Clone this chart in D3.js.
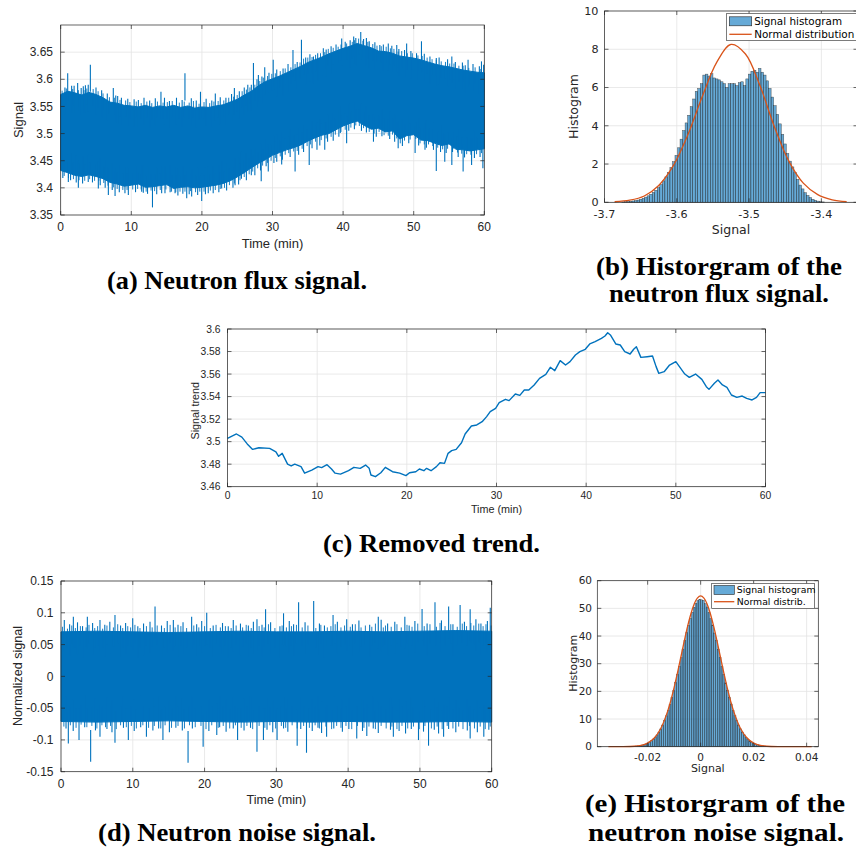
<!DOCTYPE html>
<html>
<head>
<meta charset="utf-8">
<script src="https://cdn.jsdelivr.net/npm/d3@7"></script>
<style>
body { margin: 0; background: #fff; }
svg { display: block; }
</style>
</head>
<body>
<svg id="fig" width="856" height="847"></svg>
<script>
// ---- (a) neutron flux signal: dense band envelope (1 min steps) + spikes
var aEnvT = d3.range(0, 61);
var aUpper = [3.572,3.578,3.575,3.571,3.576,3.572,3.566,3.558,3.556,3.552,3.551,3.549,3.552,3.548,3.551,3.549,3.552,3.548,3.551,3.547,
	3.549,3.548,3.551,3.553,3.558,3.563,3.571,3.578,3.588,3.596,3.601,3.606,3.612,3.618,3.624,3.631,3.636,3.641,3.647,3.652,
	3.657,3.661,3.666,3.662,3.658,3.652,3.651,3.648,3.643,3.641,3.639,3.636,3.632,3.628,3.625,3.623,3.620,3.617,3.615,3.613,3.612];
var aLower = [3.432,3.428,3.423,3.421,3.424,3.421,3.417,3.410,3.407,3.403,3.405,3.407,3.401,3.402,3.404,3.406,3.399,3.401,3.402,3.400,
	3.401,3.403,3.405,3.408,3.413,3.420,3.428,3.437,3.445,3.452,3.460,3.465,3.470,3.474,3.479,3.486,3.492,3.497,3.500,3.507,
	3.514,3.519,3.523,3.515,3.508,3.510,3.503,3.505,3.490,3.496,3.498,3.488,3.487,3.482,3.478,3.481,3.471,3.470,3.468,3.470,3.472];
var aSpikesUp = [[0.99,3.611],[1.55,3.588],[2.4,3.593],[3.2,3.587],[3.9,3.59],[4.2,3.627],[7.45,3.584],[8.07,3.569],[11.0,3.562],
	[14.2,3.577],[17.6,3.611],[19.8,3.577],[21.9,3.574],[24.6,3.584],[26.5,3.59],[27.3,3.63],[28.0,3.608],[28.9,3.622],[30.1,3.636],
	[32.9,3.654],[34.1,3.673],[35.8,3.642],[37.2,3.657],[39.8,3.675],[41.5,3.679],[42.5,3.687],[43.3,3.676],[45.2,3.663],[46.4,3.666],
	[47.6,3.663],[49.0,3.666],[51.1,3.670],[53.2,3.639],[55.4,3.642],[57.7,3.636],[59.6,3.633],
	[0.6,3.585],[1.9,3.588],[2.9,3.584],[3.5,3.589],[5.0,3.585],[5.8,3.58],[6.6,3.574],[7.8,3.57],[8.6,3.566],[9.5,3.564],[10.4,3.563],
	[11.8,3.566],[12.6,3.561],[13.4,3.565],[14.7,3.566],[15.4,3.56],[16.4,3.566],[17.2,3.562],[18.5,3.565],[19.2,3.561],[20.6,3.564],
	[21.4,3.561],[22.6,3.567],[23.4,3.566],[24.2,3.573],[25.3,3.578],[26.0,3.585],[27.0,3.59],[27.8,3.6],[28.5,3.605],[29.5,3.612],
	[30.6,3.618],[31.5,3.62],[32.2,3.628],[33.5,3.632],[34.7,3.64],[35.3,3.646],[36.4,3.648],[37.6,3.655],[38.3,3.661],[39.0,3.664],
	[40.3,3.669],[41.0,3.672],[41.8,3.676],[42.9,3.674],[43.7,3.67],[44.5,3.668],[45.7,3.664],[46.9,3.662],[47.9,3.656],[48.7,3.654],
	[49.6,3.652],[50.4,3.648],[51.5,3.647],[52.3,3.642],[53.6,3.64],[54.8,3.637],[55.9,3.632],[56.9,3.631],[57.3,3.626],[58.4,3.628],
	[59.3,3.624],[59.9,3.627]];
var aSpikesDown = [[1.08,3.411],[2.5,3.4],[3.9,3.411],[5.33,3.399],[6.75,3.387],[7.7,3.385],[9.58,3.387],[11.47,3.393],[13.0,3.364],
	[14.77,3.39],[16.2,3.39],[17.85,3.381],[18.55,3.384],[19.97,3.376],[20.9,3.39],[22.8,3.399],[24.7,3.405],[25.6,3.417],[27.0,3.423],
	[28.4,3.412],[29.4,3.43],[30.6,3.448],[31.3,3.443],[33.2,3.43],[35.2,3.442],[36.3,3.47],[37.4,3.47],[39.6,3.501],[40.5,3.482],
	[44.3,3.485],[47.8,3.473],[50.2,3.464],[51.6,3.47],[53.2,3.431],[54.4,3.448],[55.4,3.442],[57.0,3.43],[58.2,3.442],[59.8,3.436],
	[0.3,3.418],[1.4,3.414],[2.2,3.41],[3.1,3.408],[4.5,3.41],[5.6,3.405],[6.3,3.4],[7.3,3.396],[8.3,3.392],[9.1,3.39],[10.6,3.392],
	[11.7,3.391],[12.3,3.389],[13.6,3.388],[14.3,3.39],[15.5,3.392],[16.6,3.386],[17.3,3.389],[18.2,3.388],[19.4,3.387],[20.5,3.388],
	[21.6,3.39],[22.4,3.392],[23.5,3.395],[24.4,3.4],[25.2,3.406],[26.3,3.414],[27.5,3.423],[28.3,3.432],[29.1,3.44],[30.2,3.446],
	[31.4,3.452],[32.5,3.457],[33.7,3.461],[34.4,3.466],[35.6,3.473],[36.7,3.478],[37.8,3.485],[38.6,3.487],[39.4,3.494],[40.8,3.505],
	[41.6,3.508],[42.6,3.505],[43.3,3.502],[44.7,3.494],[45.5,3.495],[46.6,3.49],[47.3,3.485],[48.4,3.477],[49.3,3.482],[50.7,3.478],
	[51.8,3.474],[52.8,3.47],[53.8,3.466],[54.6,3.464],[55.5,3.466],[56.3,3.457],[57.2,3.456],[58.6,3.455],[59.4,3.457]];
// short spikes that make the ragged edge of the band
var aFringeUp = [[0.2,3.579],[0.8,3.583],[1.7,3.582],[2.5,3.58],[3.3,3.58],[3.7,3.583],[4.6,3.582],[5.3,3.578],[6.0,3.574],[6.9,3.567],
	[7.6,3.566],[8.4,3.562],[9.2,3.561],[9.8,3.558],[10.7,3.559],[11.4,3.556],[12.2,3.559],[12.9,3.556],[13.7,3.559],[14.5,3.557],
	[15.1,3.558],[15.8,3.56],[16.8,3.557],[17.5,3.559],[18.2,3.557],[18.8,3.56],[19.6,3.555],[20.3,3.558],[21.1,3.556],[21.7,3.559],
	[22.3,3.56],[23.1,3.561],[23.8,3.566],[24.5,3.568],[25.0,3.571],[25.7,3.578],[26.3,3.581],[26.8,3.585],[27.5,3.59],[28.2,3.597],
	[28.7,3.603],[29.3,3.606],[29.9,3.61],[30.4,3.611],[31.1,3.615],[31.8,3.62],[32.6,3.622],[33.2,3.628],[33.9,3.631],[34.4,3.638],
	[35.0,3.64],[35.6,3.641],[36.1,3.645],[36.8,3.648],[37.4,3.65],[37.9,3.656],[38.6,3.658],[39.3,3.66],[39.7,3.664],[40.5,3.666],
	[41.3,3.669],[41.6,3.672],[42.2,3.675],[42.8,3.671],[43.5,3.669],[44.2,3.665],[44.8,3.662],[45.4,3.661],[46.1,3.66],[46.7,3.657],
	[47.2,3.656],[47.8,3.651],[48.3,3.652],[49.1,3.648],[49.8,3.648],[50.6,3.644],[51.2,3.643],[51.9,3.64],[52.6,3.637],[53.2,3.636],
	[53.9,3.633],[54.5,3.632],[55.1,3.629],[55.7,3.629],[56.4,3.625],[57.0,3.625],[57.8,3.621],[58.7,3.622],[59.5,3.619]];
var aFringeDown = [[0.5,3.422],[1.1,3.418],[1.8,3.416],[2.6,3.414],[3.4,3.413],[4.1,3.416],[4.8,3.413],[5.4,3.413],[6.1,3.409],[6.7,3.404],
	[7.5,3.401],[8.0,3.398],[8.8,3.396],[9.4,3.396],[10.2,3.397],[10.9,3.398],[11.4,3.397],[12.1,3.393],[12.8,3.395],[13.3,3.394],
	[14.1,3.396],[14.9,3.397],[15.7,3.393],[16.3,3.392],[16.9,3.393],[17.6,3.393],[18.4,3.394],[19.1,3.392],[19.7,3.393],[20.3,3.393],
	[21.2,3.395],[21.9,3.396],[22.6,3.398],[23.2,3.4],[23.9,3.405],[24.6,3.408],[25.4,3.414],[26.0,3.42],[26.7,3.425],[27.2,3.43],
	[27.9,3.436],[28.6,3.441],[29.3,3.446],[29.8,3.45],[30.4,3.455],[31.1,3.458],[31.8,3.461],[32.3,3.464],[33.0,3.467],[33.5,3.468],
	[34.2,3.472],[34.9,3.477],[35.4,3.48],[36.1,3.485],[36.9,3.488],[37.6,3.491],[38.3,3.494],[38.9,3.498],[39.7,3.503],[40.3,3.507],
	[41.1,3.511],[41.8,3.515],[42.3,3.514],[42.9,3.51],[43.7,3.503],[44.4,3.5],[45.1,3.503],[45.8,3.497],[46.4,3.496],[47.0,3.498],
	[47.6,3.491],[48.1,3.482],[48.7,3.487],[49.5,3.489],[50.3,3.49],[50.9,3.482],[51.5,3.48],[52.1,3.48],[52.7,3.477],[53.4,3.474],
	[54.1,3.471],[54.8,3.472],[55.6,3.472],[56.2,3.465],[56.8,3.463],[57.5,3.462],[58.1,3.461],[58.9,3.462],[59.6,3.464]];
var aXTicks = [0,10,20,30,40,50,60];
var aYTicks = [3.35,3.4,3.45,3.5,3.55,3.6,3.65];

// ---- (b) histogram of the flux signal (pdf), 80 bins
var bBinStart = -3.676, bBinWidth = 0.0035;
var bHeights = [0.02,0.03,0.04,0.05,0.07,0.09,0.12,0.16,0.21,0.27,0.34,0.42,0.52,0.63,0.77,0.93,1.12,1.33,1.56,1.82,
	2.12,2.45,2.85,3.3,3.75,4.15,4.55,5.0,5.4,5.8,5.95,6.2,6.65,6.7,6.6,6.72,6.5,6.45,6.4,6.3,
	6.2,6.0,6.2,6.2,6.2,6.1,6.25,6.3,6.1,6.45,6.7,6.85,6.9,6.8,7.0,6.8,6.65,6.35,5.95,5.5,
	5.05,4.6,4.1,3.55,3.05,2.55,2.15,1.85,1.55,1.2,0.9,0.7,0.5,0.36,0.25,0.16,0.1,0.06,0.03,0.02];
var bNormX = [-3.686,-3.665,-3.645,-3.625,-3.605,-3.585,-3.565,-3.545,-3.525,-3.505,-3.485,-3.465,-3.445,-3.425,-3.405,-3.385,-3.365];
var bNormY = [0.03,0.11,0.33,0.88,1.9,3.5,5.5,7.3,8.25,7.75,6.1,3.95,2.15,1.0,0.4,0.13,0.03];
var bXTicks = [-3.7,-3.6,-3.5,-3.4];
var bYTicks = [0,2,4,6,8,10];

// ---- (c) removed trend
var cTime = [0,1.0,1.6,2.2,2.8,3.5,4.7,5.4,5.7,6.1,6.7,7.1,7.5,8.2,8.6,9.4,10.1,10.5,11.1,11.6,12.0,12.6,13.5,14.1,14.8,15.4,15.8,
	16.0,16.5,17.1,17.6,18.4,19.2,19.9,20.3,21.0,21.4,21.9,22.2,22.7,23.3,23.7,24.2,24.6,25.0,25.5,26.1,26.5,27.2,27.8,28.4,28.9,
	29.3,29.9,30.3,31.0,31.4,32.1,32.6,33.1,33.6,34.2,34.8,35.5,36.0,36.5,37.1,37.7,38.2,38.8,39.3,39.9,40.4,41.0,41.7,42.1,42.4,
	42.7,43.3,43.8,44.3,44.9,45.3,45.6,46.1,46.8,47.4,47.8,48.1,48.7,49.3,50.0,50.4,51.0,51.5,52.2,52.9,53.4,53.7,54.3,54.7,55.2,
	55.7,56.2,56.8,57.4,57.9,58.5,59.0,59.4,60];
var cTrend = [3.503,3.5068,3.504,3.498,3.4931,3.4946,3.494,3.491,3.487,3.4896,3.480,3.4784,3.480,3.4778,3.472,3.4748,3.4778,3.4769,
	3.4795,3.4757,3.472,3.4712,3.4742,3.4772,3.4763,3.4792,3.4763,3.4704,3.4689,3.4724,3.4772,3.4733,3.472,3.4698,3.4724,3.4733,
	3.4757,3.4742,3.4763,3.4742,3.4778,3.4813,3.4807,3.4896,3.492,3.4931,3.499,3.5068,3.5139,3.5148,3.5177,3.5222,3.5266,3.5296,
	3.5346,3.5376,3.5364,3.5423,3.5411,3.5458,3.5458,3.5503,3.5562,3.5597,3.566,3.563,3.5719,3.568,3.571,3.5769,3.5799,3.582,
	3.5867,3.5888,3.5917,3.5938,3.5967,3.5947,3.5867,3.5858,3.5799,3.5778,3.582,3.5843,3.5748,3.5754,3.576,3.5666,3.5606,3.5621,
	3.568,3.571,3.5666,3.560,3.5571,3.560,3.5553,3.5488,3.5464,3.5518,3.5547,3.5503,3.5482,3.5414,3.5393,3.5405,3.5384,3.537,
	3.5393,3.5435,3.5435];
var cXTicks = [0,10,20,30,40,50,60];
var cYTicks = [3.46,3.48,3.5,3.52,3.54,3.56,3.58,3.6];

// ---- (d) neutron noise signal: band envelope (5 min steps) + spikes
var dEnvT = [0,5,10,15,20,25,30,35,40,45,50,55,60];
var dUpper = [0.070,0.071,0.070,0.069,0.070,0.071,0.070,0.070,0.071,0.070,0.071,0.072,0.071];
var dLower = [-0.071,-0.072,-0.071,-0.070,-0.071,-0.072,-0.071,-0.072,-0.071,-0.072,-0.072,-0.071,-0.072];
var dSpikesUp = [[0.46,0.0887],[1.72,0.0939],[3.67,0.0939],[5.43,0.0887],[7.52,0.0965],[9.99,0.0913],[13.1,0.1097],[15.65,0.0887],
	[18.2,0.0939],[20.3,0.1002],[24.0,0.0887],[27.3,0.0897],[28.5,0.1055],[31.0,0.0992],[33.1,0.1165],[35.2,0.1186],[37.9,0.0965],
	[39.8,0.0897],[44.2,0.0939],[47.9,0.0939],[50.3,0.106],[52.1,0.1165],[54.0,0.1097],[55.6,0.1123],[57.0,0.1055],[59.8,0.108],
	[1.2,0.082],[2.3,0.085],[3.0,0.079],[4.4,0.084],[6.1,0.081],[6.8,0.086],[8.3,0.08],[9.0,0.084],[10.7,0.079],[11.5,0.083],
	[12.4,0.086],[14.0,0.08],[14.8,0.087],[16.3,0.081],[17.0,0.085],[18.9,0.082],[19.6,0.087],[21.2,0.08],[22.5,0.084],[23.3,0.079],
	[25.0,0.083],[26.1,0.08],[26.8,0.086],[28.0,0.081],[29.2,0.085],[30.5,0.079],[31.8,0.087],[32.4,0.082],[34.0,0.085],[36.0,0.083],
	[36.7,0.08],[38.5,0.086],[40.6,0.082],[41.5,0.088],[43.0,0.081],[44.6,0.089],[45.5,0.083],[46.5,0.086],[48.5,0.08],[49.3,0.087],
	[51.0,0.083],[53.0,0.088],[54.6,0.082],[56.2,0.086],[57.8,0.09],[58.5,0.083],[59.4,0.087]];
var dSpikesDown = [[1.02,-0.1055],[2.51,-0.1002],[4.13,-0.1343],[5.43,-0.095],[7.52,-0.1044],[9.38,-0.1002],[11.9,-0.095],
	[14.2,-0.1002],[17.7,-0.1359],[19.8,-0.1107],[21.7,-0.0923],[24.6,-0.1002],[27.3,-0.1186],[28.2,-0.1002],[30.1,-0.1002],
	[32.9,-0.1091],[34.2,-0.1202],[37.0,-0.095],[41.2,-0.0976],[42.6,-0.0939],[46.3,-0.095],[49.8,-0.1002],[51.2,-0.1091],
	[53.3,-0.095],[57.0,-0.0976],[58.9,-0.095],
	[0.7,-0.082],[1.7,-0.086],[3.3,-0.08],[4.8,-0.085],[6.4,-0.083],[7.1,-0.088],[8.7,-0.081],[10.2,-0.086],[11.1,-0.08],[12.8,-0.085],
	[13.6,-0.082],[15.1,-0.088],[16.0,-0.081],[16.9,-0.085],[18.3,-0.082],[20.6,-0.086],[22.1,-0.08],[23.0,-0.087],[24.0,-0.082],
	[25.5,-0.085],[26.4,-0.081],[28.7,-0.084],[29.5,-0.088],[31.0,-0.082],[31.6,-0.087],[33.4,-0.083],[35.0,-0.086],[35.8,-0.081],
	[36.3,-0.089],[38.0,-0.082],[39.2,-0.087],[40.1,-0.083],[42.0,-0.086],[43.5,-0.082],[44.2,-0.089],[45.9,-0.084],[47.1,-0.086],
	[48.0,-0.09],[48.8,-0.083],[50.5,-0.087],[52.0,-0.084],[52.6,-0.09],[54.0,-0.083],[55.0,-0.088],[56.6,-0.085],[58.0,-0.088],[59.6,-0.084]];
var dFringeUp = [[0.2,0.078],[0.9,0.075],[1.5,0.08],[2.0,0.076],[2.7,0.079],[3.5,0.077],[3.9,0.081],[4.7,0.076],[5.1,0.079],[5.8,0.075],
	[6.4,0.08],[7.3,0.077],[7.9,0.082],[8.6,0.076],[9.3,0.079],[9.7,0.077],[10.3,0.081],[11.0,0.076],[11.9,0.079],[12.7,0.077],
	[13.4,0.08],[14.4,0.076],[15.2,0.081],[15.9,0.077],[16.7,0.079],[17.5,0.076],[18.5,0.08],[19.2,0.077],[20.0,0.079],[20.8,0.076],
	[21.6,0.081],[22.2,0.077],[22.9,0.079],[23.7,0.076],[24.4,0.08],[25.3,0.077],[25.8,0.081],[26.5,0.076],[27.6,0.079],[28.3,0.077],
	[28.9,0.082],[29.8,0.076],[30.8,0.08],[31.4,0.077],[32.1,0.079],[32.8,0.081],[33.6,0.077],[34.4,0.08],[35.5,0.076],[36.2,0.081],
	[37.1,0.077],[37.6,0.079],[38.2,0.082],[39.0,0.077],[39.5,0.08],[40.3,0.078],[41.0,0.082],[41.8,0.077],[42.4,0.08],[43.3,0.078],
	[43.8,0.083],[44.9,0.077],[45.2,0.08],[46.0,0.078],[46.8,0.082],[47.4,0.077],[48.2,0.081],[48.9,0.078],[49.7,0.083],[50.6,0.079],
	[51.4,0.082],[52.3,0.078],[52.8,0.084],[53.5,0.079],[54.3,0.082],[55.2,0.078],[55.9,0.083],[56.5,0.079],[57.1,0.084],[57.5,0.08],
	[58.2,0.083],[58.8,0.079],[59.2,0.082],[59.9,0.08]];
var dFringeDown = [[0.4,-0.079],[1.3,-0.077],[2.1,-0.081],[2.8,-0.076],[3.6,-0.08],[4.3,-0.078],[5.0,-0.082],[5.7,-0.077],[6.2,-0.08],
	[6.9,-0.078],[7.7,-0.083],[8.3,-0.077],[9.1,-0.08],[9.8,-0.078],[10.5,-0.082],[11.4,-0.077],[12.2,-0.081],[13.0,-0.078],[13.9,-0.082],
	[14.5,-0.077],[15.4,-0.081],[16.3,-0.078],[17.2,-0.082],[17.9,-0.077],[18.7,-0.08],[19.5,-0.078],[20.2,-0.083],[21.0,-0.077],
	[21.9,-0.081],[22.6,-0.078],[23.5,-0.082],[24.3,-0.077],[25.1,-0.081],[25.9,-0.078],[26.7,-0.083],[27.6,-0.078],[28.4,-0.081],
	[29.1,-0.077],[29.9,-0.082],[30.7,-0.078],[31.3,-0.081],[32.2,-0.077],[32.9,-0.082],[33.8,-0.078],[34.6,-0.081],[35.4,-0.077],
	[36.0,-0.082],[36.9,-0.079],[37.7,-0.083],[38.4,-0.078],[39.0,-0.081],[39.7,-0.078],[40.5,-0.083],[41.3,-0.078],[42.2,-0.081],
	[42.9,-0.079],[43.8,-0.083],[44.6,-0.078],[45.3,-0.082],[46.1,-0.079],[46.8,-0.083],[47.5,-0.078],[48.3,-0.082],[49.1,-0.079],
	[49.9,-0.083],[50.7,-0.078],[51.6,-0.082],[52.4,-0.079],[53.1,-0.083],[53.8,-0.078],[54.6,-0.082],[55.4,-0.079],[56.0,-0.083],
	[56.9,-0.078],[57.6,-0.082],[58.4,-0.079],[59.1,-0.083],[59.8,-0.079]];
var dXTicks = [0,10,20,30,40,50,60];
var dYTicks = [-0.15,-0.1,-0.05,0,0.05,0.1,0.15];

// ---- (e) histogram of the noise signal (pdf), 80 bins
var eBinStart = -0.028, eBinWidth = 0.0007;
var eHeights = [0.04,0.06,0.09,0.12,0.17,0.23,0.31,0.43,0.57,0.76,1.0,1.3,1.68,2.15,2.73,3.43,4.27,5.27,6.44,7.81,
	9.38,11.16,13.14,15.36,17.78,20.39,23.17,26.1,29.1,32.2,35.3,38.3,41.2,43.9,46.4,48.6,50.4,51.8,52.8,53.2,
	53.1,52.9,51.7,50.5,48.5,46.3,44.0,41.1,38.4,35.2,32.3,29.0,26.2,23.1,20.4,17.7,15.4,13.1,11.2,9.4,
	7.8,6.45,5.25,4.3,3.42,2.74,2.14,1.7,1.3,1.0,0.77,0.57,0.43,0.31,0.23,0.17,0.12,0.09,0.06,0.04];
var eNormX = [-0.0348,-0.03,-0.025,-0.0225,-0.02,-0.0175,-0.015,-0.0125,-0.01125,-0.01,-0.00875,-0.0075,-0.00625,-0.005,-0.00375,
	-0.0025,-0.00125,0,0.00125,0.0025,0.00375,0.005,0.00625,0.0075,0.00875,0.01,0.01125,0.0125,0.015,0.0175,0.02,0.0225,0.025,0.03,0.035,0.0419];
var eNormY = [0,0.01,0.16,0.49,1.31,3.13,6.68,12.69,16.73,21.44,26.7,32.24,37.86,43.2,47.8,51.4,53.7,54.5,53.7,51.4,47.8,43.2,
	37.86,32.24,26.7,21.44,16.73,12.69,6.68,3.13,1.31,0.49,0.16,0.01,0,0];
var eXTicks = [-0.02,0,0.02,0.04];
var eYTicks = [0,10,20,30,40,50,60];

var BLUE = '#0072BD', ORANGE = '#D95319', INK = '#262626', GRID = '#e3e3e3';
var SANS = "'Liberation Sans', Arial, sans-serif", DJV = "'DejaVu Sans', sans-serif";
var svg = d3.select('#fig');

function fmt(d) { return String(+d.toFixed(4)); }

// gridlines, returns a group for data
function setupAxes(o) {
	var g = svg.append('g');
	var xr = o.x.range(), yr = o.y.range();
	g.selectAll('line.gx').data(o.xTicks).join('line').attr('class', 'gx')
		.attr('x1', function (d) {return o.x(d);}).attr('x2', function (d) {return o.x(d);})
		.attr('y1', yr[0]).attr('y2', yr[1])
		.attr('stroke', GRID).attr('stroke-width', 0.8);
	g.selectAll('line.gy').data(o.yTicks).join('line').attr('class', 'gy')
		.attr('y1', function (d) {return o.y(d);}).attr('y2', function (d) {return o.y(d);})
		.attr('x1', xr[0]).attr('x2', xr[1])
		.attr('stroke', GRID).attr('stroke-width', 0.8);
	o.g = g;
	o.plot = g.append('g');
	return o;
}

// box, inward ticks, tick labels, axis labels
function finishAxes(o) {
	var g = o.g, tl = o.tickLen || 4;
	var xr = o.x.range(), yr = o.y.range();
	g.append('rect').attr('x', xr[0]).attr('y', yr[1])
		.attr('width', xr[1]-xr[0]).attr('height', yr[0]-yr[1])
		.attr('fill', 'none').attr('stroke', INK).attr('stroke-width', 0.7);
	var tk = g.append('g').attr('stroke', INK).attr('stroke-width', 0.7);
	o.xTicks.forEach(function (d) {
		tk.append('line').attr('x1', o.x(d)).attr('x2', o.x(d)).attr('y1', yr[0]).attr('y2', yr[0]-tl);
		tk.append('line').attr('x1', o.x(d)).attr('x2', o.x(d)).attr('y1', yr[1]).attr('y2', yr[1]+tl);
	});
	o.yTicks.forEach(function (d) {
		tk.append('line').attr('y1', o.y(d)).attr('y2', o.y(d)).attr('x1', xr[0]).attr('x2', xr[0]+tl);
		tk.append('line').attr('y1', o.y(d)).attr('y2', o.y(d)).attr('x1', xr[1]).attr('x2', xr[1]-tl);
	});
	var t = g.append('g').attr('fill', INK).attr('font-family', o.font);
	t.selectAll('text.xt').data(o.xTicks).join('text').attr('class', 'xt')
		.attr('x', function (d) {return o.x(d);}).attr('y', o.xTickY).attr('dy', '0.35em')
		.attr('text-anchor', 'middle').attr('font-size', o.tickSize).text(fmt);
	t.selectAll('text.yt').data(o.yTicks).join('text').attr('class', 'yt')
		.attr('x', o.yTickX).attr('y', function (d) {return o.y(d);}).attr('dy', '0.35em')
		.attr('text-anchor', 'end').attr('font-size', o.tickSize).text(fmt);
	t.append('text').attr('x', (xr[0]+xr[1])/2).attr('y', o.xLabelY).attr('dy', '0.35em')
		.attr('text-anchor', 'middle').attr('font-size', o.labelSize).text(o.xLabel);
	t.append('text').attr('transform', 'translate('+o.yLabelX+','+o.yLabelY+') rotate(-90)')
		.attr('dy', '0.35em').attr('text-anchor', 'middle').attr('font-size', o.labelSize).text(o.yLabel);
}

function spikes(o, list, reach, width) {
	o.plot.append('g').selectAll('line').data(list).join('line')
		.attr('x1', function (d) {return o.x(d[0]);}).attr('x2', function (d) {return o.x(d[0]);})
		.attr('y1', function (d) {return o.y(d[1]);})
		.attr('y2', function (d) {return o.y(d[1] > 0 && reach > 0 ? d[1]-reach : d[1]-reach);})
		.attr('stroke', BLUE).attr('stroke-width', width);
}

function drawBand(o, envT, up, low) {
	var area = d3.area()
		.x(function (d, i) {return o.x(envT[i]);})
		.y0(function (d, i) {return o.y(low[i]);})
		.y1(function (d) {return o.y(d);});
	o.plot.append('path').datum(up).attr('d', area)
		.attr('fill', BLUE).attr('stroke', BLUE).attr('stroke-width', 1);
}

function drawHist(o, start, w, heights, nx, ny) {
	o.plot.selectAll('rect.bar').data(heights).join('rect').attr('class', 'bar')
		.attr('x', function (d, i) {return o.x(start+i*w);})
		.attr('width', function (d, i) {return o.x(start+(i+1)*w)-o.x(start+i*w);})
		.attr('y', function (d) {return o.y(d);})
		.attr('height', function (d) {return o.y(0)-o.y(d);})
		.attr('fill', BLUE).attr('fill-opacity', 0.6)
		.attr('stroke', INK).attr('stroke-opacity', 0.75).attr('stroke-width', 0.5);
	var line = d3.line()
		.x(function (d, i) {return o.x(nx[i]);})
		.y(function (d) {return o.y(d);})
		.curve(d3.curveCatmullRom);
	o.plot.append('path').datum(ny).attr('d', line)
		.attr('fill', 'none').attr('stroke', ORANGE).attr('stroke-width', 1.3);
}

function legend(o, lx, ly, lw, lh, px, pw, row1, row2, labels, fs) {
	var g = o.g.append('g');
	g.append('rect').attr('x', lx).attr('y', ly).attr('width', lw).attr('height', lh)
		.attr('fill', '#fff').attr('stroke', INK).attr('stroke-width', 0.6);
	g.append('rect').attr('x', px).attr('y', row1-4.5).attr('width', pw).attr('height', 9)
		.attr('fill', BLUE).attr('fill-opacity', 0.6).attr('stroke', INK).attr('stroke-width', 0.6);
	g.append('line').attr('x1', px).attr('x2', px+pw).attr('y1', row2).attr('y2', row2)
		.attr('stroke', ORANGE).attr('stroke-width', 1.3);
	g.selectAll('text').data(labels).join('text')
		.attr('x', px+pw+2.5).attr('y', function (d, i) {return i ? row2 : row1;}).attr('dy', '0.35em')
		.attr('font-family', DJV).attr('font-size', fs).attr('fill', '#000').text(function (d) {return d;});
}

// (a)
var pa = setupAxes({
	x: d3.scaleLinear().domain([0, 60]).range([60.7, 484.3]),
	y: d3.scaleLinear().domain([3.35, 3.7]).range([215, 25]),
	xTicks: aXTicks, yTicks: aYTicks, font: SANS, tickSize: 12, labelSize: 13,
	xTickY: 227, yTickX: 53, xLabel: 'Time (min)', xLabelY: 243, yLabel: 'Signal', yLabelX: 18.5, yLabelY: 120
});
drawBand(pa, aEnvT, aUpper, aLower);
spikes(pa, aFringeUp, 0.03, 0.9);
spikes(pa, aFringeDown, -0.03, 0.9);
spikes(pa, aSpikesUp, 0.05, 1.1);
spikes(pa, aSpikesDown, -0.05, 1.1);
finishAxes(pa);

// (b)
var pb = setupAxes({
	x: d3.scaleLinear().domain([-3.7, -3.35]).range([604.5, 857.5]),
	y: d3.scaleLinear().domain([0, 10]).range([202.3, 11]),
	xTicks: bXTicks, yTicks: bYTicks, font: DJV, tickSize: 11.2, labelSize: 12.5,
	xTickY: 214.5, yTickX: 598.5, xLabel: 'Signal', xLabelY: 230, yLabel: 'Histogram', yLabelX: 574, yLabelY: 106.5
});
drawHist(pb, bBinStart, bBinWidth, bHeights, bNormX, bNormY);
finishAxes(pb);
legend(pb, 726.7, 13.3, 140, 27.4, 729.3, 22.4, 21.3, 34.3, ['Signal histogram', 'Normal distribution'], 10.4);

// (c)
var pc = setupAxes({
	x: d3.scaleLinear().domain([0, 60]).range([227.5, 765.5]),
	y: d3.scaleLinear().domain([3.46, 3.6]).range([486.7, 329]),
	xTicks: cXTicks, yTicks: cYTicks, font: SANS, tickSize: 10.3, labelSize: 10.8,
	xTickY: 495.5, yTickX: 220.5, xLabel: 'Time (min)', xLabelY: 509, yLabel: 'Signal trend', yLabelX: 195, yLabelY: 410.7
});
var trendLine = d3.line()
	.x(function (d, i) {return pc.x(cTime[i]);})
	.y(function (d) {return pc.y(d);});
pc.plot.append('path').datum(cTrend).attr('d', trendLine)
	.attr('fill', 'none').attr('stroke', BLUE).attr('stroke-width', 1.4).attr('stroke-linejoin', 'round');
finishAxes(pc);

// (d)
var pd = setupAxes({
	x: d3.scaleLinear().domain([0, 60]).range([61, 491.7]),
	y: d3.scaleLinear().domain([-0.15, 0.15]).range([771.7, 581]),
	xTicks: dXTicks, yTicks: dYTicks, font: SANS, tickSize: 12, labelSize: 12.6,
	xTickY: 783.5, yTickX: 53.5, xLabel: 'Time (min)', xLabelY: 799.3, yLabel: 'Normalized signal', yLabelX: 17.5, yLabelY: 676
});
drawBand(pd, dEnvT, dUpper, dLower);
spikes(pd, dFringeUp, 0.03, 0.9);
spikes(pd, dFringeDown, -0.03, 0.9);
spikes(pd, dSpikesUp, 0.05, 1.1);
spikes(pd, dSpikesDown, -0.05, 1.1);
finishAxes(pd);

// (e)
var pe = setupAxes({
	x: d3.scaleLinear().domain([-0.039, 0.0444]).range([597.3, 818.3]),
	y: d3.scaleLinear().domain([0, 60]).range([746.7, 580.7]),
	xTicks: eXTicks, yTicks: eYTicks, font: DJV, tickSize: 10.5, labelSize: 11,
	xTickY: 757, yTickX: 592, xLabel: 'Signal', xLabelY: 768, yLabel: 'Histogram', yLabelX: 572.7, yLabelY: 663.3
});
drawHist(pe, eBinStart, eBinWidth, eHeights, eNormX, eNormY);
finishAxes(pe);
legend(pe, 711.7, 583.3, 102.6, 25, 714, 20.3, 590, 601.7, ['Signal histogram', 'Normal distrib.'], 9.3);

// captions
var captions = [
	{text: '(a) Neutron flux signal.', x: 237, y: 289, w: 260},
	{text: '(b) Historgram of the', x: 719, y: 275, w: 246},
	{text: 'neutron flux signal.', x: 719, y: 302, w: 220},
	{text: '(c) Removed trend.', x: 431.5, y: 552, w: 217},
	{text: '(d) Neutron noise signal.', x: 237, y: 841, w: 278},
	{text: '(e) Historgram of the', x: 715, y: 812, w: 260},
	{text: 'neutron noise signal.', x: 716, y: 841, w: 256}
];
svg.append('g').selectAll('text').data(captions).join('text')
	.attr('x', function (d) {return d.x - d.w/2;}).attr('y', function (d) {return d.y;})
	.attr('textLength', function (d) {return d.w;}).attr('lengthAdjust', 'spacingAndGlyphs')
	.attr('font-family', "'Liberation Serif', serif").attr('font-weight', 'bold')
	.attr('font-size', 26).attr('fill', '#000')
	.text(function (d) {return d.text;});
</script>
</body>
</html>
